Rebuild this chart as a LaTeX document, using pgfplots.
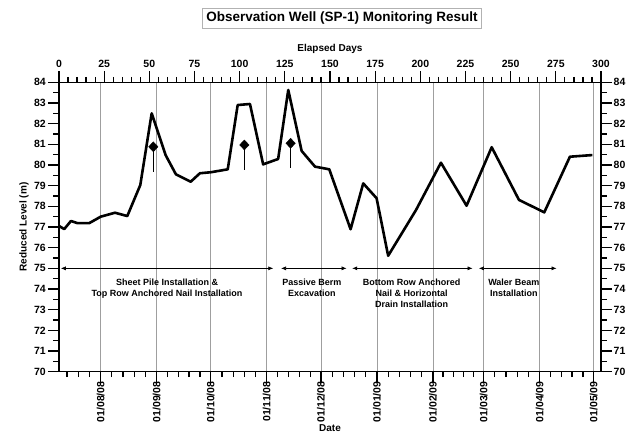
\documentclass[border=0pt]{standalone}
\usepackage{pgfplots}
\pgfplotsset{compat=1.18}
\usepackage{fontspec}
\setmainfont{Liberation Sans}
\usetikzlibrary{arrows.meta}
\pgfplotsset{
  common/.style={
    scale only axis, width=542pt, height=289.4pt,
    xmin=0, xmax=300, ymin=70, ymax=84,
    axis line style={line width=1.5pt},
    tick style={line width=1.2pt, black},
    tick align=outside,
    /pgf/number format/assume math mode=true,
    tick label style={font=\fontsize{10.5}{12}\selectfont\bfseries},
    label style={font=\fontsize{10}{12}\selectfont\bfseries},
  }
}
\begin{document}
\begin{tikzpicture}
\begin{axis}[common,
  xtick pos=bottom, xticklabel pos=lower,
  ytick pos=right, yticklabel pos=right,
  xtick={23,54,84,115,145,176,207,235,266,296},
  xticklabels={01/08/08,01/09/08,01/10/08,01/11/08,01/12/08,01/01/09,01/02/09,01/03/09,01/04/09,01/05/09},
  xticklabel style={rotate=90, anchor=east, inner sep=0.5pt, xshift=2pt},
  yticklabel style={inner sep=1.5pt},
  minor xtick={4.4,10.6,16.8,29.2,35.4,41.6,47.8,60,66,72,78,90.2,96.4,102.6,108.8,121,127,133,139,151.2,157.4,163.6,169.8,182.2,188.4,194.6,200.8,212.6,218.2,223.8,229.4,241.2,247.4,253.6,259.8,272,278,284,290},
  ytick={70,71,...,84},
  minor ytick={70.5,71.5,...,83.5},
  xmajorgrids, major x grid style={gray!75, line width=0.8pt},
  major tick length=11pt, minor tick length=5.5pt,
  xlabel={Date},
  xlabel style={at={(axis description cs:0.5,0)}, anchor=center, yshift=-56.5pt},
]
\coordinate (O) at (rel axis cs:0,0);
\end{axis}
\begin{axis}[common,
  xtick pos=top, xticklabel pos=upper,
  ytick pos=left, yticklabel pos=left,
  xtick={0,25,...,300}, minor x tick num=4,
  ytick={70,71,...,84}, minor y tick num=1,
  major tick length=11pt, minor tick length=5.5pt,
  xlabel={Elapsed Days}, ylabel={Reduced Level (m)},
  yticklabel style={inner sep=2pt},
]
% construction stage arrows
\addplot[line width=0.6pt, {Latex[length=5pt,width=4pt]}-{Latex[length=5pt,width=4pt]}] coordinates {(1,75) (118.6,75)};
\addplot[line width=0.6pt, {Latex[length=5pt,width=4pt]}-{Latex[length=5pt,width=4pt]}] coordinates {(122.9,75) (159.2,75)};
\addplot[line width=0.6pt, {Latex[length=5pt,width=4pt]}-{Latex[length=5pt,width=4pt]}] coordinates {(162.3,75) (228.9,75)};
\addplot[line width=0.6pt, {Latex[length=5pt,width=4pt]}-{Latex[length=5pt,width=4pt]}] coordinates {(232.4,75) (275.4,75)};
\node[anchor=north, align=center, font=\fontsize{9}{10.7}\selectfont\bfseries] at (axis cs:59.8,74.65) {Sheet Pile Installation \&\\Top Row Anchored Nail Installation};
\node[anchor=north, align=center, font=\fontsize{9}{10.7}\selectfont\bfseries] at (axis cs:140,74.65) {Passive Berm\\Excavation};
\node[anchor=north, align=center, font=\fontsize{9}{10.7}\selectfont\bfseries] at (axis cs:195.2,74.65) {Bottom Row Anchored\\Nail \& Horizontal\\Drain Installation};
\node[anchor=north, align=center, font=\fontsize{9}{10.7}\selectfont\bfseries] at (axis cs:251.8,74.65) {Waler Beam\\Installation};
% markers
\addplot[line width=1.5pt] coordinates {(52.2,80.88) (52.2,79.67)};
\addplot[line width=1.5pt] coordinates {(102.6,80.97) (102.6,79.76)};
\addplot[line width=1.5pt] coordinates {(128.2,81.05) (128.2,79.84)};
\addplot[only marks, mark=diamond*, mark size=5pt, mark options={xscale=1.25}, black] coordinates {(52.2,80.88) (102.6,80.97) (128.2,81.05)};
% data
\addplot[line width=2.6pt, line join=round, black] coordinates {
(0,77.05)(2.9,76.9)(6.6,77.29)(10.1,77.19)(16.8,77.19)(23.1,77.5)(31,77.69)(37.8,77.53)(45,79.03)(51.3,82.5)(59,80.48)(64.7,79.55)(72.9,79.19)(78,79.6)(84.1,79.65)(93.4,79.79)(98.9,82.9)(105.7,82.95)(113,80.03)(121.3,80.29)(126.9,83.63)(134.3,80.68)(141.7,79.92)(149.6,79.79)(161.4,76.89)(168.4,79.11)(175.8,78.39)(182.2,75.61)(197.6,77.82)(211.4,80.11)(225.6,78.03)(239.5,80.86)(254.6,78.31)(268.6,77.71)(282.8,80.4)(295.2,80.48)};
\end{axis}
\node[draw=gray!60, line width=0.8pt, inner xsep=3.5pt, minimum height=20pt, font=\fontsize{13.5}{15}\selectfont\bfseries] at ([shift={(283pt,353.4pt)}]O) {Observation Well (SP-1) Monitoring Result};
\pgfresetboundingbox
\useasboundingbox ([shift={(-59pt,-62.3pt)}]O) rectangle ([shift={(568pt,371.7pt)}]O);
\end{tikzpicture}
\end{document}
